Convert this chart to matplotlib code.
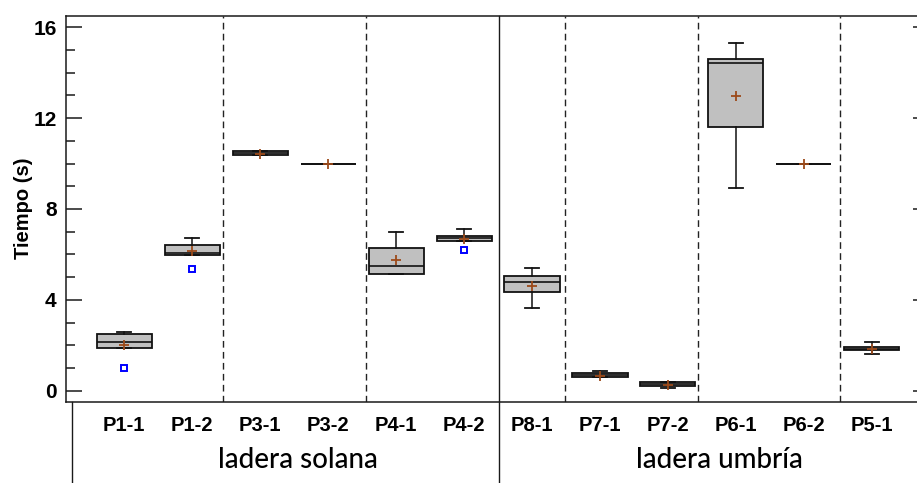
import matplotlib
matplotlib.use("Agg")
import matplotlib.pyplot as plt
import matplotlib.transforms as mtransforms

# Box-plot summaries per plot (seconds)
labels = ["P1-1", "P1-2", "P3-1", "P3-2", "P4-1", "P4-2",
          "P8-1", "P7-1", "P7-2", "P6-1", "P6-2", "P5-1"]
whis_lo = [1.90, 5.99, 10.36, 10.0, 5.12, 6.59, 3.64, 0.62, 0.13, 8.93, 10.0, 1.64]
q1 = [1.90, 5.99, 10.39, 10.0, 5.12, 6.59, 4.33, 0.62, 0.23, 11.59, 10.0, 1.79]
medians = [2.15, 6.08, 10.48, 10.0, 5.51, 6.74, 4.78, 0.70, 0.31, 14.42, 10.0, 1.86]
q3 = [2.51, 6.40, 10.57, 10.0, 6.29, 6.81, 5.06, 0.78, 0.41, 14.60, 10.0, 1.92]
whis_hi = [2.57, 6.73, 10.57, 10.0, 6.99, 7.10, 5.41, 0.89, 0.41, 15.31, 10.0, 2.15]
means = [2.02, 6.15, 10.42, 10.0, 5.76, 6.67, 4.62, 0.65, 0.28, 12.97, 10.0, 1.86]
outliers = [[0.99], [5.34], [], [], [], [6.21], [], [], [], [], [], []]

groups = ["ladera solana", "ladera umbría"]

stats = []
for i in range(len(labels)):
    stats.append(dict(label=labels[i], whislo=whis_lo[i], q1=q1[i], med=medians[i],
                      q3=q3[i], whishi=whis_hi[i], mean=means[i], fliers=outliers[i]))

fig = plt.figure(figsize=(9.17, 4.83), dpi=100)
ax = fig.add_axes([0.0716, 0.1683, 0.9414, 0.7992])

pos = list(range(1, len(labels) + 1))
ax.bxp(stats, positions=pos, widths=0.81, capwidths=0.2, patch_artist=True,
       showmeans=True, showcaps=True,
       boxprops=dict(facecolor="#c0c0c0", edgecolor="#111111", linewidth=1.3),
       medianprops=dict(color="#111111", linewidth=1.2),
       whiskerprops=dict(color="#111111", linewidth=1.1),
       capprops=dict(color="#111111", linewidth=1.3),
       meanprops=dict(marker="+", markeredgecolor="#9c4a1a", markersize=7,
                      markeredgewidth=1.3),
       flierprops=dict(marker="s", markerfacecolor="none", markeredgecolor="#0000ff",
                       markersize=5, markeredgewidth=1.4))

ax.set_xlim(0.138, 12.84)
ax.set_ylim(-0.475, 16.5)

# separators between plots and between slopes
for x in [2.452, 4.552, 7.484, 9.436, 11.53]:
    ax.axvline(x, color="#222222", linewidth=1.0, linestyle=(0, (4.8, 3.1)), zorder=1)

trans = mtransforms.blended_transform_factory(ax.transData, ax.transAxes)
ax.plot([6.508, 6.508], [1.0, -0.215], transform=trans, color="#1a1a1a",
        linewidth=1.0, clip_on=False)
ax.plot([0.226, 0.226], [0.0, -0.215], transform=trans, color="#1a1a1a",
        linewidth=1.0, clip_on=False)

ax.set_yticks([0, 4, 8, 12, 16])
ax.set_yticks(range(0, 17), minor=True)
ax.set_xticks([])
ax.tick_params(axis="y", which="both", direction="in", left=True, right=True,
               width=1.1, colors="#1a1a1a", labelcolor="black")
ax.tick_params(axis="y", which="major", length=11.5, pad=6.5)
ax.tick_params(axis="y", which="minor", length=6.5)
for t in ax.get_yticklabels():
    t.set_fontfamily("Liberation Sans")
    t.set_fontweight("bold")
    t.set_fontsize(15)
for s in ax.spines.values():
    s.set_linewidth(1.1)
    s.set_color("#1a1a1a")

ax.set_ylabel("Tiempo (s)", fontfamily="Liberation Sans", fontweight="bold",
              fontsize=14.5)
ax.yaxis.set_label_coords(-0.038, 0.5)

for p, lab in zip(pos, labels):
    ax.text(p, -0.0759, lab, transform=trans, ha="center", va="baseline",
            fontfamily="Liberation Sans", fontweight="bold", fontsize=14.5)

ax.text(3.556, -0.1725, groups[0], transform=trans, ha="center", va="baseline",
        fontfamily="Lato", fontweight="medium", fontsize=20)
ax.text(9.757, -0.1725, groups[1], transform=trans, ha="center", va="baseline",
        fontfamily="Lato", fontweight="medium", fontsize=20)

fig.savefig("out.png", dpi=100)
